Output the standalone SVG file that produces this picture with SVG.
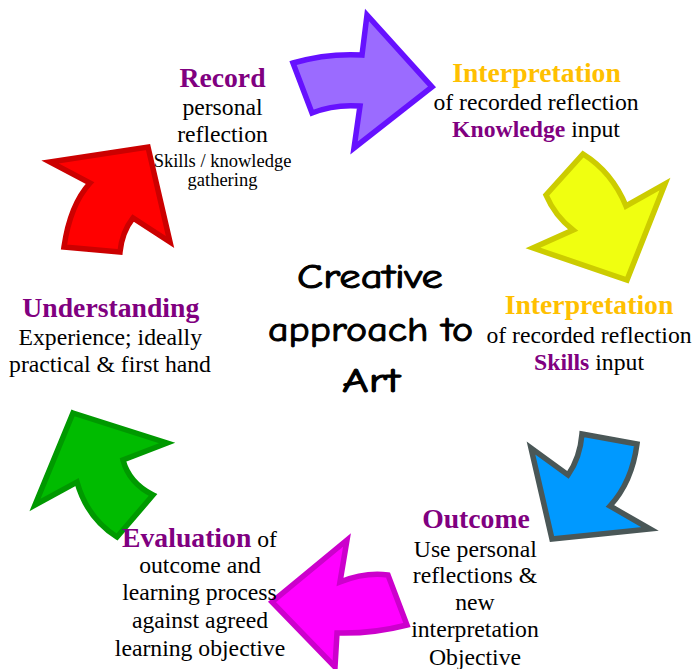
<svg xmlns="http://www.w3.org/2000/svg" width="695" height="669" viewBox="0 0 695 669">
  <style>
    text { font-family: "Liberation Serif", "Times New Roman", serif; text-anchor: middle; fill: #000; }
    .body { font-size: 23.7px; }
    .small { font-size: 18.5px; }
    .head { font-size: 27.7px; font-weight: bold; }
    .purple { fill: #800080; font-weight: bold; }
    .gold { fill: #ffc000; }
    .title { font-family: "Comic Sans MS", "Comic Neue", "DejaVu Sans", sans-serif; font-size: 34px; stroke: #000; stroke-width: 1; }
    .arrow { stroke-width: 5.5; stroke-linejoin: miter; stroke-miterlimit: 10; }
  </style>
  <rect width="695" height="669" fill="#ffffff"/>

  <!-- curved block arrows forming the cycle -->
  <g id="connectors">
    <path class="arrow" fill="#9b6bff" stroke="#6611ff" d="M293,63 Q327,53 362,55 L367,15 L432,87 L354,148 L360,106 Q334,104 312,113 Z"/>
    <path class="arrow" fill="#f0ff10" stroke="#cccc00" d="M583,154 Q612,172 626,206 L665,184 L627,280 L533,248 L573,230 Q555,216 546,195 Z"/>
    <path class="arrow" fill="#0099ff" stroke="#4a5757" d="M582,434 L637,444 Q632,482 610,506 L650,529 L552,539 L531,448 L568,475 Q580,458 582,434 Z"/>
    <path class="arrow" fill="#ff00ff" stroke="#cc00cc" d="M347,540 L340,582 Q365,572 388,575 L407,625 Q372,634 337,633 L335,667 L272,602 Z"/>
    <path class="arrow" fill="#00bb00" stroke="#009900" d="M73,413 L167,443 L123,460 Q129,483 153,495 L117,537 Q87,518 77,482 L35,505 Z"/>
    <path class="arrow" fill="#ff0000" stroke="#cc0000" d="M50,162 L148,147 L170,242 L133,218 Q122,232 120,252 L64,247 Q70,205 90,183 Z"/>
  </g>

  <g id="centre">
    <text class="title" x="370" y="288" textLength="146" lengthAdjust="spacingAndGlyphs">Creative</text>
    <text class="title" x="370.5" y="341" textLength="205" lengthAdjust="spacingAndGlyphs">approach to</text>
    <text class="title" x="371" y="392" textLength="58" lengthAdjust="spacingAndGlyphs">Art</text>
  </g>

  <g id="record">
    <text class="head purple" x="222.5" y="86.7">Record</text>
    <text class="body" x="222.5" y="115">personal</text>
    <text class="body" x="222.5" y="142.3">reflection</text>
    <text class="small" x="222.5" y="166.7">Skills / knowledge</text>
    <text class="small" x="222.5" y="185.5">gathering</text>
  </g>

  <g id="interpretation-knowledge">
    <text class="head gold" x="536.5" y="81.7">Interpretation</text>
    <text class="body" x="536" y="110">of recorded reflection</text>
    <text class="body" x="536" y="136.7"><tspan class="purple">Knowledge</tspan> input</text>
  </g>

  <g id="interpretation-skills">
    <text class="head gold" x="589" y="314.3">Interpretation</text>
    <text class="body" x="589" y="343">of recorded reflection</text>
    <text class="body" x="589" y="370"><tspan class="purple">Skills</tspan> input</text>
  </g>

  <g id="outcome">
    <text class="head purple" x="476" y="528.3">Outcome</text>
    <text class="body" x="475.3" y="556.7">Use personal</text>
    <text class="body" x="475" y="583.3">reflections &amp;</text>
    <text class="body" x="475" y="610">new</text>
    <text class="body" x="475" y="636.7">interpretation</text>
    <text class="body" x="475" y="665">Objective</text>
  </g>

  <g id="evaluation">
    <text class="body" x="199.5" y="546.7"><tspan class="head purple">Evaluation</tspan> of</text>
    <text class="body" x="200" y="573.3">outcome and</text>
    <text class="body" x="199.5" y="600">learning process</text>
    <text class="body" x="200" y="628.3">against agreed</text>
    <text class="body" x="200" y="655.7">learning objective</text>
  </g>

  <g id="understanding">
    <text class="head purple" x="110.8" y="316.7">Understanding</text>
    <text class="body" x="110.3" y="345">Experience; ideally</text>
    <text class="body" x="110" y="371.7">practical &amp; first hand</text>
  </g>
</svg>
